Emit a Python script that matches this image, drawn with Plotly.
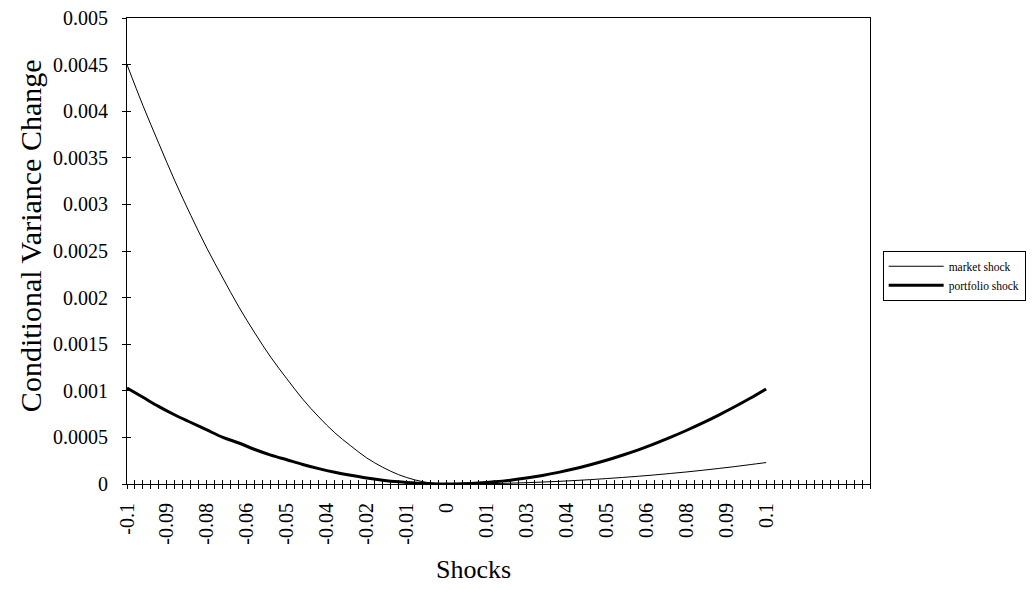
import numpy as np
import plotly.graph_objects as go

# ---- data ----
shocks = [-0.1, -0.095, -0.09, -0.085, -0.08, -0.075, -0.07, -0.065, -0.06, -0.055,
          -0.05, -0.045, -0.04, -0.035, -0.03, -0.025, -0.02, -0.015, -0.01, -0.005,
          0.0, 0.005, 0.01, 0.015, 0.02, 0.025, 0.03, 0.035, 0.04, 0.045,
          0.05, 0.055, 0.06, 0.065, 0.07, 0.075, 0.08, 0.085, 0.09, 0.095, 0.1]

market_shock = [0.0045, 0.00406, 0.00365, 0.00325, 0.00288, 0.00253, 0.00221, 0.0019, 0.00162, 0.00136,
                0.00113, 0.00091, 0.00072, 0.00055, 0.00041, 0.00028, 0.00018, 0.0001, 0.000045, 0.000011,
                0.0, 0.000001, 0.000002, 0.000005, 0.000009, 0.000014, 0.000021, 0.000028, 0.000037, 0.000047,
                0.000058, 0.00007, 0.000083, 0.000097, 0.000113, 0.000129, 0.000147, 0.000166, 0.000186, 0.000208, 0.00023]

portfolio_shock = [0.00103, 0.00093, 0.00083, 0.00074, 0.00066, 0.00058, 0.0005, 0.00044, 0.00037, 0.00031,
                   0.00026, 0.00021, 0.000165, 0.000126, 0.000093, 0.000064, 0.000041, 0.000023, 0.00001, 0.0000026,
                   0.0, 0.0000026, 0.00001, 0.000023, 0.000041, 0.000064, 0.000092, 0.000125, 0.000163, 0.000207,
                   0.000255, 0.000309, 0.000367, 0.000431, 0.0005, 0.000574, 0.000653, 0.000737, 0.000826, 0.00092, 0.00102]

x_tick_values = [-0.1, -0.0875, -0.075, -0.0625, -0.05, -0.0375, -0.025, -0.0125, 0.0,
                 0.0125, 0.025, 0.0375, 0.05, 0.0625, 0.075, 0.0875, 0.1]
x_tick_labels = ["-0.1", "-0.09", "-0.08", "-0.06", "-0.05", "-0.04", "-0.02", "-0.01", "0",
                 "0.01", "0.03", "0.04", "0.05", "0.06", "0.08", "0.09", "0.1"]

y_tick_values = [0, 0.0005, 0.001, 0.0015, 0.002, 0.0025, 0.003, 0.0035, 0.004, 0.0045, 0.005]
y_tick_labels = ["0", "0.0005", "0.001", "0.0015", "0.002", "0.0025", "0.003", "0.0035", "0.004", "0.0045", "0.005"]

# ---- styling ----
FONT = "Liberation Serif, Times New Roman, serif"
X_RANGE = [-0.1, 0.1325]
Y_RANGE = [0, 0.005]

# minor category ticks every 0.0025 along the whole axis
minor_pos = [round(-0.1 + 0.0025 * i, 5) for i in range(94)]
label_map = {round(v, 5): t for v, t in zip(x_tick_values, x_tick_labels)}
minor_text = [label_map.get(p, "") for p in minor_pos]

fig = go.Figure()
fig.add_trace(go.Scatter(x=shocks, y=market_shock, mode="lines", name="market shock",
                         line=dict(color="black", width=1), line_shape="spline"))
fig.add_trace(go.Scatter(x=shocks, y=portfolio_shock, mode="lines", name="portfolio shock",
                         line=dict(color="black", width=3), line_shape="spline"))
# helper trace so that the overlay (inside-tick) axes render
fig.add_trace(go.Scatter(x=[None], y=[None], xaxis="x2", yaxis="y2", showlegend=False,
                         hoverinfo="skip"))

tick_font = dict(family=FONT, size=20, color="black")

fig.update_layout(
    width=1036, height=590,
    margin=dict(l=127, r=166, t=18, b=106, autoexpand=False),
    paper_bgcolor="white", plot_bgcolor="white",
    font=dict(family=FONT, color="black", size=20),
    showlegend=True,
    legend=dict(xref="container", yref="container", x=0.852, xanchor="left",
                y=0.575, yanchor="top",
                bordercolor="black", borderwidth=1, bgcolor="white",
                font=dict(family=FONT, size=11.5, color="black"),
                tracegroupgap=0, itemwidth=55),
    xaxis=dict(range=X_RANGE, tickmode="array", tickvals=minor_pos, ticktext=minor_text,
               ticks="outside", ticklen=4, tickwidth=1, tickcolor="black",
               tickangle=-90, tickfont=tick_font,
               ticklabelstandoff=6,
               showline=True, linecolor="black", linewidth=1, mirror=True,
               showgrid=False, zeroline=False),
    xaxis2=dict(range=X_RANGE, overlaying="x", anchor="y", tickmode="array", tickvals=minor_pos,
                ticks="inside", ticklen=4, tickwidth=1, tickcolor="black",
                showticklabels=False, showline=False, showgrid=False, zeroline=False),
    yaxis=dict(range=Y_RANGE, tickmode="array", tickvals=y_tick_values, ticktext=y_tick_labels,
               ticks="outside", ticklen=4, tickwidth=1, tickcolor="black",
               tickfont=tick_font, ticklabelstandoff=10,
               showline=True, linecolor="black", linewidth=1, mirror=True,
               showgrid=False, zeroline=False),
    yaxis2=dict(range=Y_RANGE, overlaying="y", anchor="x", tickmode="array", tickvals=y_tick_values,
                ticks="inside", ticklen=4, tickwidth=1, tickcolor="black",
                showticklabels=False, showline=False, showgrid=False, zeroline=False),
    annotations=[
        dict(text="Conditional Variance Change", xref="paper", yref="paper",
             x=-0.1305, y=0.532, xanchor="center", yanchor="middle", textangle=-90,
             showarrow=False, font=dict(family=FONT, size=30, color="black")),
        dict(text="Shocks", xref="paper", yref="paper",
             x=0.4657, y=-0.1845, xanchor="center", yanchor="middle",
             showarrow=False, font=dict(family=FONT, size=26, color="black")),
    ],
)

fig.write_html("out.html")
